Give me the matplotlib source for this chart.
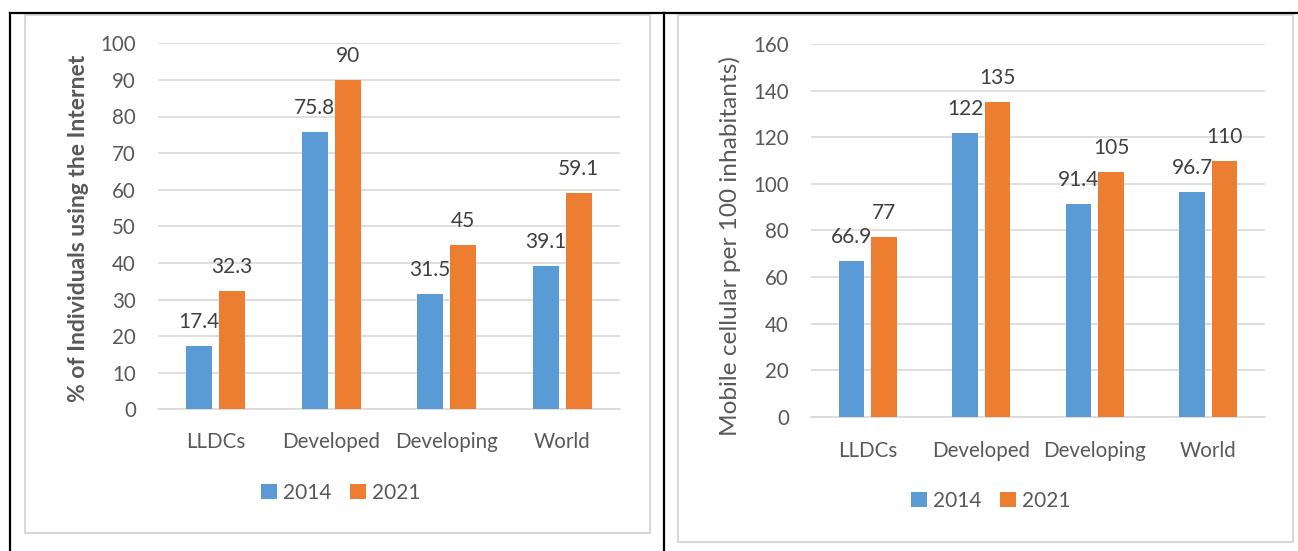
import matplotlib
matplotlib.use("Agg")
import matplotlib.pyplot as plt
from matplotlib.patches import Patch, Rectangle
from matplotlib.lines import Line2D
import numpy as np

plt.rcParams['font.family'] = ['Lato', 'DejaVu Sans']

# Data
categories = ["LLDCs", "Developed", "Developing", "World"]
years = ["2014", "2021"]
internet_2014 = [17.4, 75.8, 31.5, 39.1]
internet_2021 = [32.3, 90, 45, 59.1]
mobile_2014 = [66.9, 122, 91.4, 96.7]
mobile_2021 = [77, 135, 105, 110]
internet_ticks = list(range(0, 101, 10))
mobile_ticks = list(range(0, 161, 20))

BLUE = "#5B9BD5"
ORANGE = "#ED7D31"
GRID = "#D9D9D9"
TXT = "#595959"
LBL = "#404040"

W, H = 1298, 551
fig = plt.figure(figsize=(W / 100, H / 100), dpi=100)


def px_rect(x0, y0, x1, y1):
    return [x0 / W, 1 - y1 / H, (x1 - x0) / W, (y1 - y0) / H]


def draw_panel(ax, v1, v2, ticks, ylabel, bold, ylabel_fs, xpad):
    x = np.arange(len(categories))
    width = 0.225
    off = 0.143
    b1 = ax.bar(x - off, v1, width, color=BLUE, zorder=3)
    b2 = ax.bar(x + off, v2, width, color=ORANGE, zorder=3)
    for bars, vals in ((b1, v1), (b2, v2)):
        for rect, v in zip(bars, vals):
            ax.annotate(f"{v:g}", (rect.get_x() + rect.get_width() / 2, v),
                        xytext=(0, 13), textcoords="offset points",
                        ha="center", va="baseline", fontsize=15, color=LBL)
    ax.set_xlim(-0.5, len(categories) - 0.5)
    ax.set_ylim(ticks[0], ticks[-1])
    ax.set_yticks(ticks)
    ax.set_xticks(x)
    ax.set_xticklabels(categories)
    ax.yaxis.grid(True, color=GRID, lw=1.2, zorder=0)
    ax.set_axisbelow(True)
    for s in ("top", "right", "left"):
        ax.spines[s].set_visible(False)
    ax.spines["bottom"].set_color(GRID)
    ax.spines["bottom"].set_linewidth(1.2)
    ax.tick_params(axis="both", length=0, labelsize=14.8, colors=TXT)
    ax.tick_params(axis="y", pad=16)
    ax.tick_params(axis="x", pad=xpad)
    ax.set_ylabel(ylabel, fontsize=ylabel_fs, color=TXT,
                  fontweight="bold" if bold else "normal")
    return b1, b2


# Left panel: internet use
ax1 = fig.add_axes(px_rect(158, 43.3, 620, 409.3))
draw_panel(ax1, internet_2014, internet_2021, internet_ticks,
           "% of Individuals using the Internet", True, 16.5, 16)
ax1.yaxis.set_label_coords(-0.15, 0.495)

# Right panel: mobile subscriptions
ax2 = fig.add_axes(px_rect(811, 44, 1265, 417))
draw_panel(ax2, mobile_2014, mobile_2021, mobile_ticks,
           "Mobile cellular per 100 inhabitants)", False, 17.6, 17)
ax2.yaxis.set_label_coords(-0.155, 0.458)

handles = [Patch(facecolor=BLUE, edgecolor="none"),
           Patch(facecolor=ORANGE, edgecolor="none")]
for cx, cy in ((341, 493), (991, 501)):
    fig.legend(handles, years, loc="center", bbox_to_anchor=(cx / W, 1 - cy / H),
               ncol=2, frameon=False, fontsize=15, labelcolor=TXT,
               handlelength=0.75, handleheight=0.75, handletextpad=0.3,
               columnspacing=0.9)

# Chart frames
for x0, y0, x1, y1 in ((25, 15, 650, 533), (678, 15, 1293, 542)):
    fig.add_artist(Rectangle((x0 / W, 1 - y1 / H), (x1 - x0) / W, (y1 - y0) / H,
                             transform=fig.transFigure, fill=False,
                             edgecolor=GRID, lw=1.5))

# Table borders
def hline(y, x0, x1):
    fig.add_artist(Line2D([x0 / W, x1 / W], [1 - y / H, 1 - y / H],
                          transform=fig.transFigure, color="black", lw=1.6))


def vline(x, y0, y1):
    fig.add_artist(Line2D([x / W, x / W], [1 - y0 / H, 1 - y1 / H],
                          transform=fig.transFigure, color="black", lw=1.6))


hline(13, 10, W)
vline(10, 13, H)
vline(664, 13, H)

fig.savefig("out.png", dpi=100, facecolor="white")
